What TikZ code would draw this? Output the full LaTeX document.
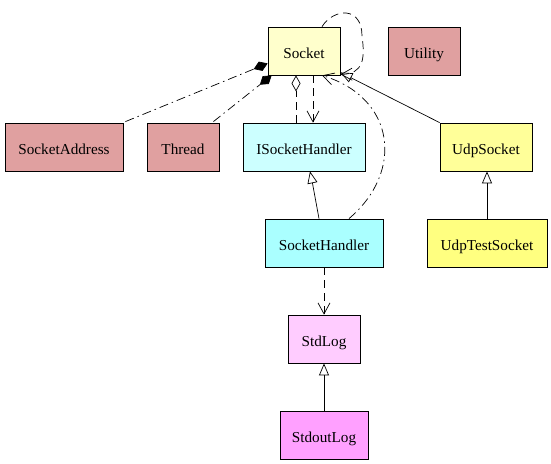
\documentclass[tikz,border=0pt]{standalone}
\usepackage{fontspec}
\setmainfont{Liberation Serif}
\usetikzlibrary{arrows.meta}
\definecolor{cSock}{HTML}{FFFFCC}
\definecolor{cRed}{HTML}{E0A0A0}
\definecolor{cISH}{HTML}{CCFFFF}
\definecolor{cSH}{HTML}{AAFFFF}
\definecolor{cUdp}{HTML}{FFFF99}
\definecolor{cUdpT}{HTML}{FFFF80}
\definecolor{cStd}{HTML}{FFCCFF}
\definecolor{cStdO}{HTML}{FFA0FF}
\tikzset{
  cls/.style={draw=black, line width=0.8pt, minimum height=48pt, inner sep=0pt, text height=14pt, text depth=0pt, font=\fontsize{15.2}{16}\selectfont, anchor=center},
  dashdotline/.style={dash pattern=on 9pt off 4pt on 1.5pt off 4pt},
  dashline/.style={dash pattern=on 8pt off 5pt},
  veetip/.style={-{Straight Barb[length=11pt,width=12pt]}},
  inh/.style={-{Triangle[open,length=12pt,width=10pt]}},
  fdia/.style={-{Diamond[length=15pt,width=10pt]}},
  odia/.style={-{Diamond[open,length=16pt,width=9pt]}},
  conn/.style={line width=0.7pt}
}
\begin{document}
\begin{tikzpicture}[x=1pt,y=-1pt]
\useasboundingbox (0,0) rectangle (551,463);
\node[cls, fill=cSock, minimum width=72pt] (sock) at (304,51) {Socket};
\node[cls, fill=cRed, minimum width=72pt] (util) at (424,51) {Utility};
\node[cls, fill=cRed, minimum width=118pt] (sa) at (64,147) {SocketAddress};
\node[cls, fill=cRed, minimum width=72pt] (thr) at (183,147) {Thread};
\node[cls, fill=cISH, minimum width=122pt] (ish) at (304,147) {ISocketHandler};
\node[cls, fill=cUdp, minimum width=92pt] (udp) at (486,147) {UdpSocket};
\node[cls, fill=cSH, minimum width=118pt] (sh) at (324,243) {SocketHandler};
\node[cls, fill=cUdpT, minimum width=120pt] (udpt) at (487,243) {UdpTestSocket};
\node[cls, fill=cStd, minimum width=72pt] (std) at (324,339) {StdLog};
\node[cls, fill=cStdO, minimum width=88pt] (stdo) at (324,435) {StdoutLog};

% aggregation / composition
\draw[conn, dashdotline, fdia] ([xshift=2pt,yshift=1pt]sa.north east) -- ([yshift=12pt]sock.south west);
\draw[conn, dashdotline, fdia] ([xshift=-6pt,yshift=1pt]thr.north east) -- ([xshift=4pt]sock.south west);
\draw[conn, dashline, odia] ([xshift=-8pt]ish.north) -- ([xshift=-8pt]sock.south);
\draw[conn, dashline, veetip] ([xshift=9pt]sock.south) -- ([xshift=9pt]ish.north);
% SocketHandler -> Socket
\draw[conn, dashdotline, veetip] ([xshift=25pt]sh.north) .. controls (404,172) and (396,98) .. ([xshift=18pt]sock.south);
% self loop
\coordinate (loopmid) at (362,36);
\draw[conn, dashline, veetip] ([xshift=18pt]sock.north) .. controls (334,8) and (362,6) .. (loopmid) .. controls (365,58) and (364,74) .. ([yshift=1pt]sock.south east);
% inheritance
\draw[conn, inh] (udp.north west) -- ([yshift=3pt]sock.south east);
\draw[conn, inh] ([xshift=-5pt]sh.north) .. controls (316,200) .. ([xshift=6pt]ish.south);
\draw[conn, dashline, veetip] (sh.south) -- (std.north);
\draw[conn, inh] (stdo.north) -- (std.south);
\draw[conn, inh] (udpt.north) -- (udpt.north |- udp.south);
\end{tikzpicture}
\end{document}
